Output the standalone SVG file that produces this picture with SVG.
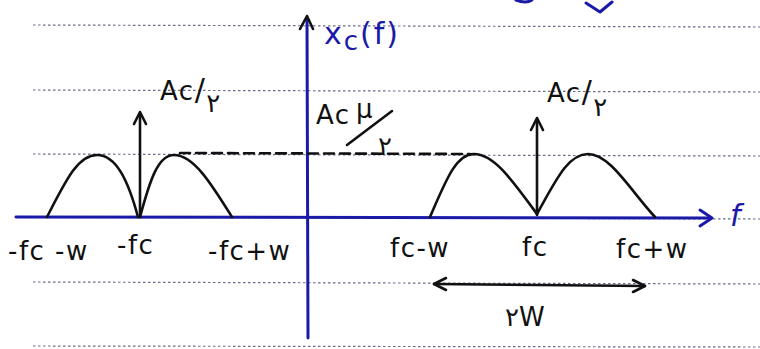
<svg xmlns="http://www.w3.org/2000/svg" width="760" height="349" viewBox="0 0 760 349">
<style>
.rule{stroke:#6a6a8a;stroke-width:1.2;stroke-dasharray:2.5 2.5;fill:none}
.ink{stroke:#111;stroke-width:2.6;fill:none;stroke-linecap:round;stroke-linejoin:round}
.blue{stroke:#1a1aa8;stroke-width:3;fill:none;stroke-linecap:round;stroke-linejoin:round}
.t{font-family:"DejaVu Sans","Liberation Sans",sans-serif;font-size:26px;fill:#111;letter-spacing:1.5px}
.tb{font-family:"DejaVu Sans","Liberation Sans",sans-serif;font-size:30px;fill:#1a1aa8;letter-spacing:2px}
</style>
<rect width="760" height="349" fill="#fff"/>
<g id="rules">
<line class="rule" x1="33" y1="25" x2="760" y2="27"/>
<line class="rule" x1="33" y1="90" x2="760" y2="92"/>
<line class="rule" x1="33" y1="154" x2="760" y2="156"/>
<line class="rule" x1="33" y1="217" x2="760" y2="219"/>
<line class="rule" x1="33" y1="282" x2="760" y2="284"/>
<line class="rule" x1="33" y1="346" x2="760" y2="347"/>
</g>
<g id="scribble">
<path class="blue" d="M586,3 L600,12 L612,2" stroke-width="2.5"/>
<path class="blue" d="M516,0 Q526,4 532,0" stroke-width="2.5"/>
</g>
<g id="connectors">
<line class="blue" x1="16" y1="217" x2="710" y2="218" stroke-width="2.5"/>
<path class="blue" d="M700,210 L712,218 L700,226" stroke-width="2.5"/>
<line class="blue" x1="307" y1="20" x2="308" y2="338" stroke-width="3.5"/>
<path class="ink" d="M300,29 L307,16 L313,29" stroke="#111"/>
<line class="ink" x1="140" y1="217" x2="140" y2="114"/>
<path class="ink" d="M134,124 L140,112 L146,124"/>
<line class="ink" x1="537" y1="215" x2="537" y2="120"/>
<path class="ink" d="M531,130 L537,118 L543,130"/>
<line class="ink" x1="180" y1="153" x2="470" y2="154" stroke-dasharray="10 6" stroke-width="2"/>
<line class="ink" x1="434" y1="284" x2="645" y2="286"/>
<path class="ink" d="M446,278 L434,284 L446,290"/>
<path class="ink" d="M633,280 L645,286 L633,292"/>
</g>
<g id="lobes">
<path class="ink" d="M47,217 C66,180 78,155 97,155 C116,155 128,180 138,217"/>
<path class="ink" d="M140,217 C150,180 158,155 174,155 C194,155 212,185 232,217"/>
<path class="ink" d="M430,217 C446,180 456,154 474,154 C494,154 512,180 537,214"/>
<path class="ink" d="M537,214 C556,180 568,154 588,154 C610,154 630,190 655,217"/>
</g>
<g id="labels">
<text class="tb" x="324" y="44">x<tspan font-size="26" dy="6">c</tspan><tspan dy="-6">(f)</tspan></text>
<text class="tb" x="730" y="226" font-style="italic">f</text>
<text class="t" x="160" y="100">Ac<tspan font-size="30">/</tspan><tspan dy="12">۲</tspan></text>
<text class="t" x="547" y="102">Ac<tspan font-size="30">/</tspan><tspan dy="14">۲</tspan></text>
<text class="t" x="316" y="124">Ac</text>
<text class="t" x="356" y="118" font-size="22">μ</text>
<line class="ink" x1="347" y1="145" x2="392" y2="111" stroke-width="2.4"/>
<text class="t" x="378" y="155" font-size="22">۲</text>
<text class="t" x="8" y="260">-fc -w</text>
<text class="t" x="117" y="254">-fc</text>
<text class="t" x="208" y="260">-fc+w</text>
<text class="t" x="390" y="257">fc-w</text>
<text class="t" x="522" y="256">fc</text>
<text class="t" x="616" y="258">fc+w</text>
<text class="t" x="505" y="326">۲W</text>
</g>
</svg>
